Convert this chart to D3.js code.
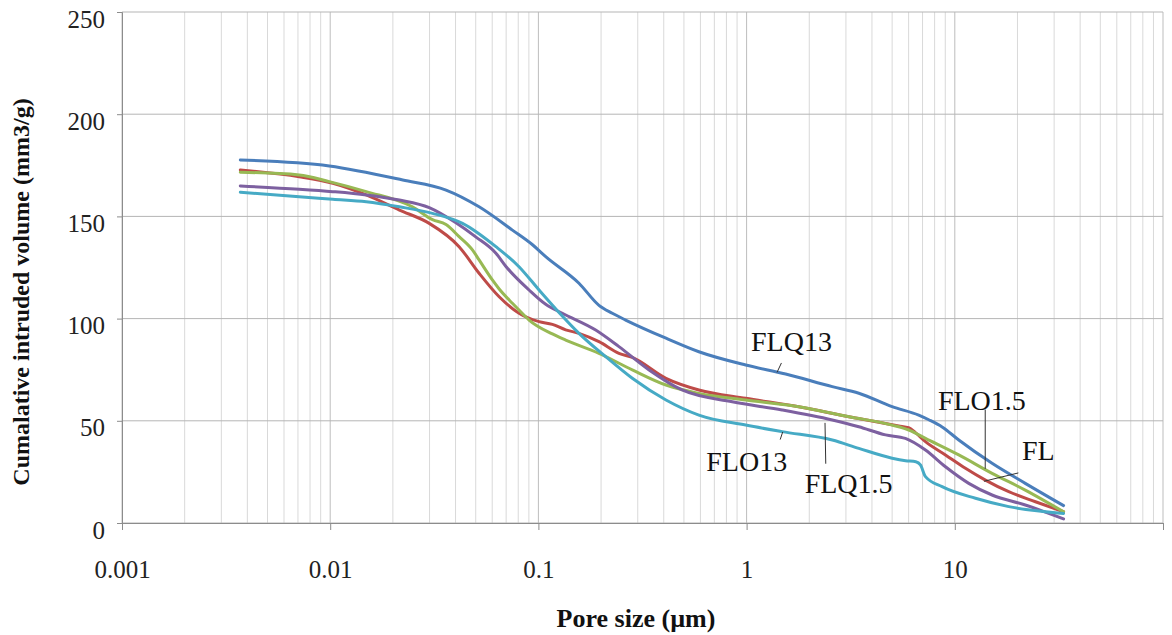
<!DOCTYPE html>
<html>
<head>
<meta charset="utf-8">
<script src="https://cdn.jsdelivr.net/npm/d3@7"></script>
<style>
  body { margin: 0; background: #fff; }
  svg { display: block; font-family: "Liberation Serif", "Times New Roman", serif; }
</style>
</head>
<body>
<svg id="chart" width="1172" height="635"></svg>
<script>
// Data (pore size in µm, cumulative intruded volume in mm3/g)
const flq13 = [
  [0.0037, 177.6], [0.0099, 174.7], [0.0223, 167.8], [0.036, 162.9], [0.0519, 154.7],
  [0.075, 143.3], [0.094, 136], [0.1084, 130.3], [0.1566, 117.3], [0.1954, 106.5],
  [0.2264, 102.6], [0.2624, 99.3], [0.41, 90.4], [0.59, 83.8], [0.99, 77.3],
  [1.54, 72.9], [2.58, 66.7], [3.46, 63.5], [5.0, 56.9], [6.71, 52.8], [7.5, 50.5],
  [8.69, 47], [10.45, 40.6], [15.1, 29.2], [21.8, 19.4], [33.3, 8.5]
];
const fl = [
  [0.0037, 172.7], [0.0071, 169.4], [0.0103, 166.2], [0.0149, 160.5], [0.0215, 153.1],
  [0.0299, 146.6], [0.0416, 135.2], [0.0519, 122.2], [0.0648, 110.7], [0.0807, 102.6],
  [0.1007, 98.5], [0.1167, 97.2], [0.1352, 94.5], [0.1566, 92.8], [0.1954, 88.7],
  [0.2437, 83], [0.2825, 81], [0.41, 70.8], [0.59, 65.1], [0.99, 61], [1.78, 56.9],
  [3.1, 52], [5.38, 47.5], [6.0, 46.6], [6.47, 44.2], [7.23, 39.8], [9.02, 33.3],
  [11.25, 26.8], [14.03, 21], [18.16, 15.3], [24.4, 10.4], [33.3, 5.5]
];
const flo15 = [
  [0.0037, 171.6], [0.0071, 170.3], [0.0099, 167], [0.0149, 162.1], [0.0248, 154.7],
  [0.031, 148.4], [0.036, 146], [0.0416, 140.1], [0.0482, 133.6], [0.0519, 128.7],
  [0.0601, 118.9], [0.0648, 114.5], [0.075, 107.5], [0.0807, 104.2], [0.0902, 99.3],
  [0.1167, 92.5], [0.1352, 89.5], [0.1954, 83], [0.2825, 74.9], [0.41, 67.5],
  [0.59, 63.4], [0.99, 60.2], [1.78, 56.9], [3.1, 52], [5.0, 47.9], [6.01, 45.5],
  [7.23, 41.4], [10.45, 33.3], [15.1, 24.3], [21.8, 16.1], [33.3, 5.5]
];
const flq15 = [
  [0.0037, 164.9], [0.0071, 163.3], [0.0103, 162.1], [0.0149, 160.5], [0.0215, 158],
  [0.0299, 154.3], [0.04, 147], [0.05, 140], [0.0625, 132], [0.07, 125.4], [0.0902, 114],
  [0.1084, 107], [0.1303, 102.6], [0.1884, 94.4], [0.2437, 86.3], [0.34, 74.9],
  [0.49, 65.1], [0.853, 59.3], [1.48, 55.3], [2.58, 50.4], [3.46, 47.1], [4.65, 43.1],
  [5.79, 41.4], [7.23, 35.7], [9.02, 27.5], [11.67, 19.4], [15.1, 13.7], [21.8, 8.8],
  [33.3, 2]
];
const flo13 = [
  [0.0037, 161.8], [0.0071, 159.6], [0.0103, 158.4], [0.0149, 157.2], [0.0215, 154.7],
  [0.031, 151.5], [0.0432, 146.6], [0.0625, 135.2], [0.0807, 125.4],
  [0.1007, 114], [0.1256, 103], [0.1566, 92.8], [0.2104, 81.4], [0.2825, 70.8],
  [0.41, 60.2], [0.59, 52.8], [0.99, 47.9], [1.48, 44.7], [2.58, 40.6], [3.46, 36.5],
  [5.0, 31.7], [5.8, 30.5], [6.5, 30], [6.84, 28.4], [7.23, 22.7], [8.69, 17.8],
  [12.57, 12.1], [18.16, 8], [33.3, 4.7]
];

const seriesNames = ["FLQ13", "FL", "FLO1.5", "FLQ1.5", "FLO13"];
const seriesValues = [flq13, fl, flo15, flq15, flo13];
const seriesColors = ["#4a7ebb", "#be4b48", "#98b954", "#7d60a0", "#46aac5"];

const xTicks = [0.001, 0.01, 0.1, 1, 10, 100];
const xTickLabels = ["0.001", "0.01", "0.1", "1", "10", ""];
const yTicks = [0, 50, 100, 150, 200, 250];

// Annotation labels: [name, text x, text y, leader x1, y1, x2, y2] in data units
const labels = [
  ["FLQ13", 1.05, 84, 1.47, 78.3, 1.40, 73.7],
  ["FLO1.5", 8.3, 55.5, 14.0, 55.5, 14.0, 26.5],
  ["FL", 21.0, 31, 20.2, 24.5, 13.8, 20.4],
  ["FLO13", 0.64, 25.5, 1.49, 44.5, 1.45, 40.8],
  ["FLQ1.5", 1.9, 14.5, 2.38, 49, 2.40, 29]
];

// Layout
const margin = { left: 122, right: 9, top: 12, bottom: 112 };
const width = 1172;
const height = 635;

const svg = d3.select("#chart");

const x = d3.scaleLog()
  .domain([0.001, 100])
  .range([margin.left, width - margin.right]);

const y = d3.scaleLinear()
  .domain([0, 250])
  .range([height - margin.bottom, margin.top]);

// Minor vertical gridlines (2..9 per decade)
const minorTicks = [];
for (let p = -3; p < 2; p++) {
  for (let m = 2; m <= 9; m++) minorTicks.push(m * Math.pow(10, p));
}

svg.append("g")
  .selectAll("line")
  .data(minorTicks)
  .enter()
  .append("line")
  .attr("x1", (d) => x(d))
  .attr("x2", (d) => x(d))
  .attr("y1", y(0))
  .attr("y2", y(250))
  .attr("stroke", "#d9d9d9")
  .attr("stroke-width", 1);

// Major vertical gridlines
svg.append("g")
  .selectAll("line")
  .data(xTicks)
  .enter()
  .append("line")
  .attr("x1", (d) => x(d))
  .attr("x2", (d) => x(d))
  .attr("y1", y(0))
  .attr("y2", y(250))
  .attr("stroke", "#bdbdbd")
  .attr("stroke-width", 1);

// Horizontal gridlines
svg.append("g")
  .selectAll("line")
  .data(yTicks)
  .enter()
  .append("line")
  .attr("x1", x(0.001))
  .attr("x2", x(100))
  .attr("y1", (d) => y(d))
  .attr("y2", (d) => y(d))
  .attr("stroke", "#b5b5b5")
  .attr("stroke-width", 1);

// Axes
const xAxis = d3.axisBottom(x)
  .tickValues(xTicks)
  .tickFormat((d, i) => xTickLabels[i])
  .tickSize(7)
  .tickPadding(30);

const yAxis = d3.axisLeft(y)
  .tickValues(yTicks)
  .tickFormat(d3.format("d"))
  .tickSize(5)
  .tickPadding(12);

const gx = svg.append("g")
  .attr("transform", `translate(0,${y(0)})`)
  .call(xAxis);

const gy = svg.append("g")
  .attr("transform", `translate(${x(0.001)},0)`)
  .call(yAxis);

[gx, gy].forEach((g) => {
  g.select(".domain").attr("stroke", "#8c8c8c");
  g.selectAll(".tick line").attr("stroke", "#8c8c8c");
  g.selectAll(".tick text")
    .attr("fill", "#222")
    .style("font-family", "'Liberation Serif', serif")
    .style("font-size", "25px");
});
gy.selectAll(".tick text").attr("dy", "0.6em");

// Curves
const line = d3.line()
  .x((d) => x(d[0]))
  .y((d) => y(d[1]))
  .curve(d3.curveMonotoneX);

svg.append("g")
  .selectAll("path")
  .data(seriesValues)
  .enter()
  .append("path")
  .attr("d", line)
  .attr("fill", "none")
  .attr("stroke", (d, i) => seriesColors[i])
  .attr("stroke-width", 3)
  .attr("stroke-linejoin", "round")
  .attr("stroke-linecap", "round");

// Labels and leader lines
const ann = svg.append("g");
labels.forEach((l) => {
  ann.append("line")
    .attr("x1", x(l[3]))
    .attr("y1", y(l[4]))
    .attr("x2", x(l[5]))
    .attr("y2", y(l[6]))
    .attr("stroke", "#333")
    .attr("stroke-width", 1);
  ann.append("text")
    .attr("x", x(l[1]))
    .attr("y", y(l[2]))
    .attr("font-size", 28)
    .attr("fill", "#111")
    .text(l[0]);
});

// Axis titles
svg.append("text")
  .attr("x", 636)
  .attr("y", 627)
  .attr("text-anchor", "middle")
  .attr("font-size", 26)
  .attr("font-weight", "bold")
  .attr("fill", "#111")
  .text("Pore size (µm)");

svg.append("text")
  .attr("transform", "translate(29,292) rotate(-90)")
  .attr("text-anchor", "middle")
  .attr("font-size", 24)
  .attr("font-weight", "bold")
  .attr("fill", "#111")
  .text("Cumalative intruded volume (mm3/g)");
</script>
</body>
</html>
